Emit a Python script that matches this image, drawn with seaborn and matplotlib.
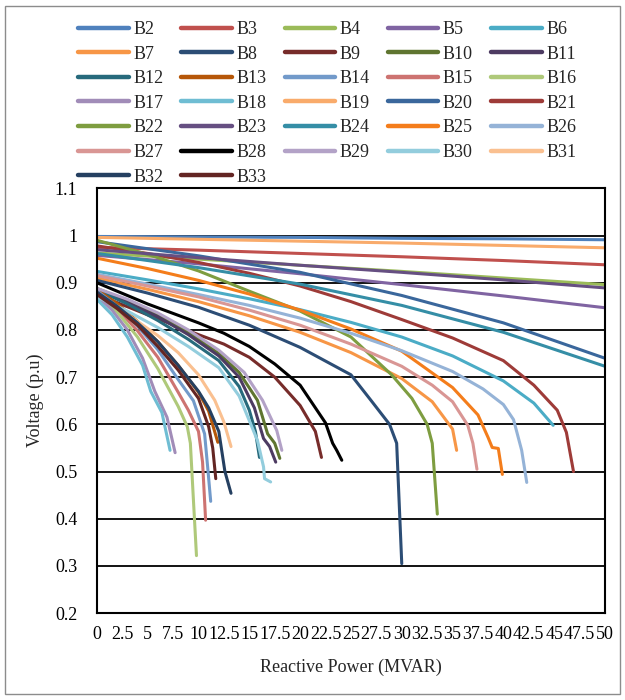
import numpy as np
import pandas as pd
import matplotlib
matplotlib.use("Agg")
import matplotlib.pyplot as plt
from matplotlib.patches import Rectangle
import seaborn as sns

# Q-V curves per bus
# (Q in MVAR, V in p.u.)
buses = ["B%d" % i for i in range(2, 34)]

b2_q = [0, 10, 20, 30, 40, 50]
b2_v = [0.998, 0.997, 0.996, 0.994, 0.993, 0.991]
b3_q = [0, 10, 20, 30, 40, 50]
b3_v = [0.975, 0.969, 0.962, 0.955, 0.947, 0.938]
b4_q = [0, 10, 20, 30, 40, 50]
b4_v = [0.963, 0.950, 0.937, 0.924, 0.910, 0.896]
b5_q = [0, 10, 20, 30, 40, 50]
b5_v = [0.958, 0.940, 0.919, 0.896, 0.872, 0.847]
b6_q = [0, 5, 10, 15, 20, 25, 30, 35, 40, 43, 44.9]
b6_v = [0.924, 0.906, 0.887, 0.866, 0.843, 0.816, 0.785, 0.745, 0.692, 0.645, 0.598]
b7_q = [0, 5, 10, 15, 20, 25, 30, 33, 35, 35.4]
b7_v = [0.910, 0.886, 0.860, 0.830, 0.795, 0.752, 0.697, 0.648, 0.590, 0.545]
b8_q = [0, 5, 10, 15, 20, 25, 27, 28.8, 29.5, 30]
b8_v = [0.905, 0.878, 0.848, 0.810, 0.763, 0.705, 0.650, 0.600, 0.560, 0.305]
b9_q = [0, 5, 10, 12.5, 15, 17.5, 20, 21.5, 22.1]
b9_v = [0.875, 0.832, 0.790, 0.770, 0.742, 0.700, 0.640, 0.585, 0.530]
b10_q = [0, 3, 6, 9, 12, 14, 15.8, 16.8, 17.5, 18.0]
b10_v = [0.888, 0.862, 0.832, 0.795, 0.750, 0.710, 0.651, 0.580, 0.560, 0.528]
b11_q = [0, 3, 6, 9, 12, 14, 15.5, 16.4, 17.0, 17.6]
b11_v = [0.885, 0.858, 0.828, 0.790, 0.745, 0.700, 0.635, 0.570, 0.553, 0.520]
b12_q = [0, 3, 6, 9, 12, 14, 15, 15.6, 16.0]
b12_v = [0.885, 0.855, 0.820, 0.780, 0.735, 0.680, 0.630, 0.585, 0.530]
b13_q = [0, 2, 4, 6, 8, 10, 11, 11.9]
b13_v = [0.885, 0.856, 0.818, 0.775, 0.725, 0.668, 0.628, 0.562]
b14_q = [0, 2, 4, 6, 8, 9.5, 10.6, 10.9, 11.2]
b14_v = [0.883, 0.850, 0.808, 0.758, 0.695, 0.650, 0.580, 0.510, 0.437]
b15_q = [0, 2, 4, 6, 8, 9, 10, 10.4, 10.7]
b15_v = [0.880, 0.845, 0.798, 0.742, 0.668, 0.630, 0.585, 0.520, 0.397]
b16_q = [0, 2, 4, 6, 7.2, 8, 8.9, 9.2, 9.5, 9.8]
b16_v = [0.877, 0.838, 0.785, 0.718, 0.670, 0.638, 0.595, 0.560, 0.440, 0.322]
b17_q = [0, 1.5, 3, 4.5, 5.7, 6.9, 7.7]
b17_v = [0.872, 0.842, 0.800, 0.740, 0.670, 0.615, 0.540]
b18_q = [0, 1.5, 3, 4.5, 5.3, 6.4, 7.2]
b18_v = [0.865, 0.832, 0.785, 0.725, 0.670, 0.625, 0.545]
b19_q = [0, 10, 20, 30, 40, 50]
b19_v = [0.996, 0.992, 0.988, 0.984, 0.979, 0.974]
b20_q = [0, 10, 20, 30, 40, 50]
b20_v = [0.987, 0.957, 0.922, 0.873, 0.815, 0.740]
b21_q = [0, 5, 10, 15, 20, 25, 30, 35, 40, 43, 45.3, 46.2, 46.9]
b21_v = [0.978, 0.962, 0.943, 0.920, 0.893, 0.860, 0.822, 0.783, 0.735, 0.683, 0.630, 0.583, 0.500]
b22_q = [0, 5, 10, 15, 20, 25, 29, 31, 32.5, 33, 33.5]
b22_v = [0.990, 0.960, 0.925, 0.882, 0.840, 0.785, 0.705, 0.655, 0.600, 0.560, 0.410]
b23_q = [0, 10, 20, 30, 40, 50]
b23_v = [0.970, 0.953, 0.937, 0.922, 0.906, 0.889]
b24_q = [0, 10, 20, 30, 40, 50]
b24_v = [0.962, 0.932, 0.897, 0.852, 0.795, 0.723]
b25_q = [0, 5, 10, 15, 20, 25, 30, 35, 37.5, 38.5, 38.9, 39.5, 39.9]
b25_v = [0.952, 0.930, 0.905, 0.876, 0.842, 0.802, 0.755, 0.678, 0.620, 0.572, 0.551, 0.549, 0.494]
b26_q = [0, 5, 10, 15, 20, 25, 30, 35, 38, 40, 41, 41.8, 42.3]
b26_v = [0.918, 0.897, 0.875, 0.852, 0.825, 0.793, 0.756, 0.712, 0.675, 0.642, 0.610, 0.545, 0.477]
b27_q = [0, 5, 10, 15, 20, 25, 30, 33, 35, 36.5, 37, 37.4]
b27_v = [0.915, 0.893, 0.870, 0.842, 0.810, 0.770, 0.723, 0.683, 0.648, 0.598, 0.560, 0.505]
b28_q = [0, 5, 10, 12.5, 15, 17.5, 20, 22.5, 23.2, 23.6, 24.1]
b28_v = [0.900, 0.855, 0.815, 0.793, 0.765, 0.728, 0.683, 0.603, 0.560, 0.545, 0.524]
b29_q = [0, 3, 6, 9, 12, 14.5, 16.3, 17.7, 18.2]
b29_v = [0.888, 0.865, 0.836, 0.800, 0.757, 0.710, 0.651, 0.587, 0.545]
b30_q = [0, 3, 6, 9, 12, 14, 15.8, 16.4, 16.5, 17.1]
b30_v = [0.870, 0.840, 0.805, 0.765, 0.720, 0.660, 0.566, 0.510, 0.485, 0.478]
b31_q = [0, 2, 4, 6, 8, 10, 11.6, 12.5, 13.2]
b31_v = [0.875, 0.848, 0.818, 0.788, 0.752, 0.705, 0.651, 0.605, 0.553]
b32_q = [0, 2, 4, 6, 8, 10, 11, 12, 12.6, 13.2]
b32_v = [0.880, 0.850, 0.815, 0.775, 0.725, 0.670, 0.635, 0.585, 0.500, 0.454]
b33_q = [0, 2, 4, 6, 8, 10, 11, 11.4, 11.7]
b33_v = [0.875, 0.845, 0.810, 0.765, 0.715, 0.655, 0.595, 0.550, 0.485]

x_ticks = [0, 2.5, 5, 7.5, 10, 12.5, 15, 17.5, 20, 22.5, 25, 27.5, 30, 32.5,
           35, 37.5, 40, 42.5, 45, 47.5, 50]
y_ticks = [0.2, 0.3, 0.4, 0.5, 0.6, 0.7, 0.8, 0.9, 1.0, 1.1]

# Excel-like series colours
colors = ["#4F81BD", "#C0504D", "#9BBB59", "#8064A2", "#4BACC6", "#F79646",
          "#2C4D75", "#772C2A", "#5F7530", "#4D3B62", "#276A7C", "#B65708",
          "#729ACA", "#CD7371", "#AFC97A", "#A18CB8", "#6FBDD3", "#F9AB6B",
          "#3A679C", "#9E3B38", "#7E9D40", "#664F82", "#358EA6", "#F47D1B",
          "#95B3D7", "#D99694", "#000000", "#B3A2C7", "#93CDDD", "#FAC090",
          "#254061", "#632523"]

all_q = [b2_q, b3_q, b4_q, b5_q, b6_q, b7_q, b8_q, b9_q, b10_q, b11_q, b12_q,
         b13_q, b14_q, b15_q, b16_q, b17_q, b18_q, b19_q, b20_q, b21_q, b22_q,
         b23_q, b24_q, b25_q, b26_q, b27_q, b28_q, b29_q, b30_q, b31_q, b32_q, b33_q]
all_v = [b2_v, b3_v, b4_v, b5_v, b6_v, b7_v, b8_v, b9_v, b10_v, b11_v, b12_v,
         b13_v, b14_v, b15_v, b16_v, b17_v, b18_v, b19_v, b20_v, b21_v, b22_v,
         b23_v, b24_v, b25_v, b26_v, b27_v, b28_v, b29_v, b30_v, b31_v, b32_v, b33_v]

rows = []
for name, qs, vs in zip(buses, all_q, all_v):
    for q, v in zip(qs, vs):
        rows.append((name, q, v))
df = pd.DataFrame(rows, columns=["bus", "Q", "V"])

sns.set_style("white")
plt.rcParams["font.family"] = ["Liberation Serif", "DejaVu Serif"]

fig = plt.figure(figsize=(6.25, 7), dpi=100)
ax = fig.add_axes([0.155, 0.124, 0.813, 0.607])

sns.lineplot(data=df, x="Q", y="V", hue="bus", hue_order=buses,
             palette=dict(zip(buses, colors)), estimator=None, sort=False,
             linewidth=2.2, ax=ax)

ax.set_xlim(0, 50)
ax.set_ylim(0.2, 1.1)
ax.set_xticks(x_ticks)
ax.set_xticklabels(["%g" % t for t in x_ticks])
ax.set_yticks(y_ticks)
ax.set_yticklabels(["%g" % t for t in y_ticks])
ax.yaxis.grid(True, color="black", linewidth=1.3)
ax.xaxis.grid(False)
ax.set_axisbelow(True)
for s in ax.spines.values():
    s.set_color("black")
    s.set_linewidth(1.5)
ax.tick_params(length=0, labelsize=13, colors="black")
ax.tick_params(axis="y", pad=14)
ax.tick_params(axis="x", pad=9)
ax.set_xlabel("")
ax.set_ylabel("")

fig.text(351 / 625, 1 - 667 / 700, "Reactive Power (MVAR)", ha="center",
         va="center", fontsize=13)
fig.text(35 / 625, 1 - 400 / 700, "Voltage (p.u)", ha="center", va="center",
         rotation=90, fontsize=13)

# legend filled column-wise so it reads B2..B6 across the first row
handles, labels = ax.get_legend_handles_labels()
ax.get_legend().remove()
order = [c + 5 * r for c in range(5) for r in range(7) if c + 5 * r < len(buses)]
leg = fig.legend([handles[i] for i in order], [labels[i] for i in order],
                 ncol=5, loc="upper left", bbox_to_anchor=(0.125, 0.97),
                 frameon=False, fontsize=13, handlelength=2.8,
                 handletextpad=0.25, columnspacing=1.0, labelspacing=0.42,
                 borderpad=0, borderaxespad=0)
for line in leg.get_lines():
    line.set_linewidth(3.2)

fig.patches.append(Rectangle((0.008, 0.008), 0.984, 0.984,
                             transform=fig.transFigure, fill=False,
                             edgecolor="#8c8c8c", linewidth=1))

fig.savefig("out.png", dpi=100)
